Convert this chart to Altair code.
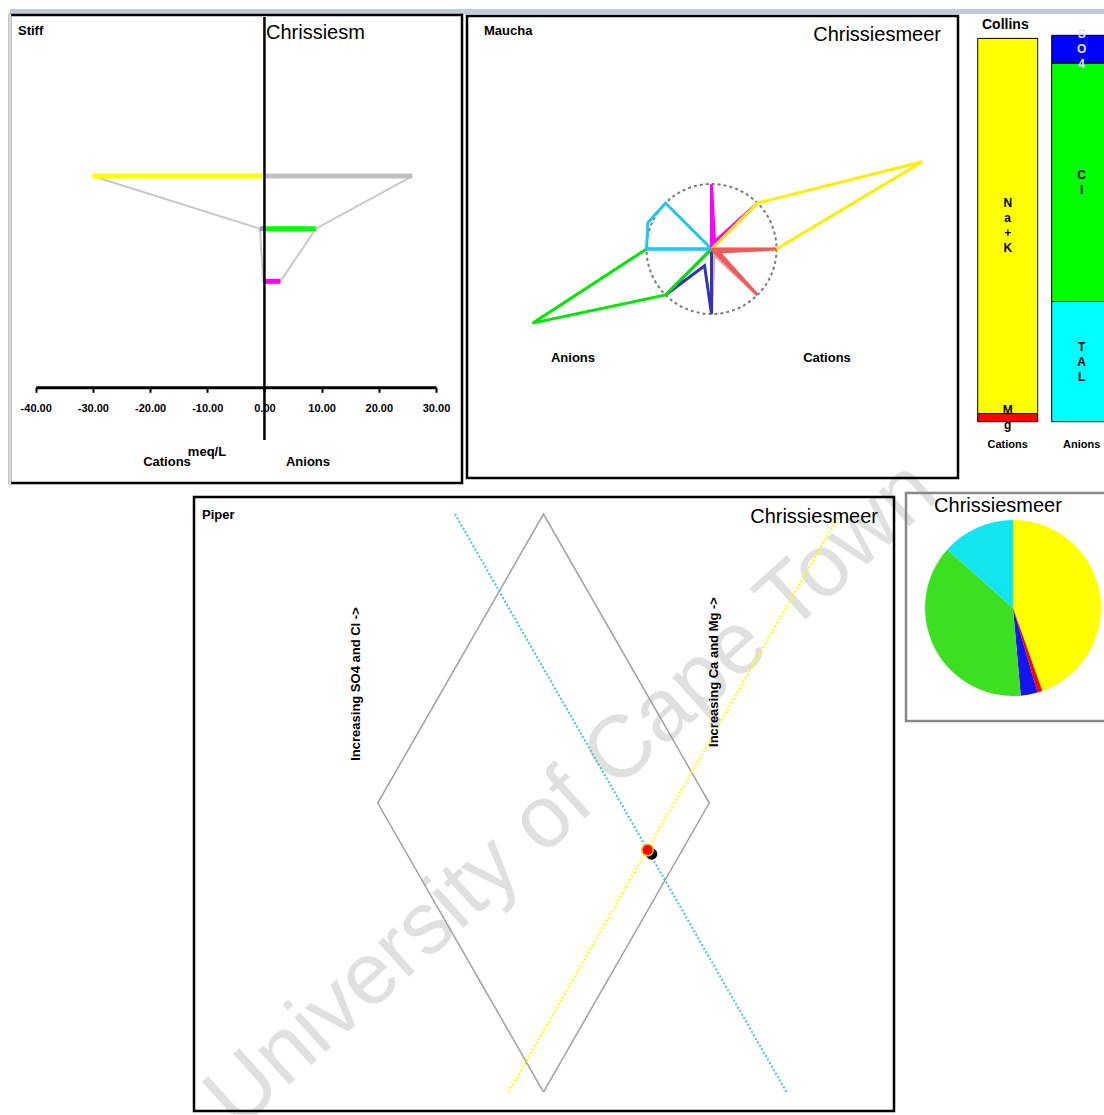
import altair as alt
import numpy as np
import pandas as pd

FONT = "Liberation Sans"

# ---------------- Stiff diagram (meq/L) ----------------
stiff_rows = [1, 2, 3]
stiff_cations = ["Na+K", "Ca", "Mg"]
stiff_cation_meq = [30.1, 0.8, 0.2]
stiff_anions = ["Cl", "HCO3", "SO4"]
stiff_anion_meq = [25.85, 9.0, 2.8]
stiff_ticks = [-40, -30, -20, -10, 0, 10, 20, 30]

# ---------------- Maucha diagram (sector, outer radius in circle radii) ----------------
maucha_ions = ["Ca", "SO4", "Cl", "HCO3", "K", "Na", "Mg"]
maucha_sector = [6, 5, 4, 3, 1, 0, 7]
maucha_size = [0.10, 0.28, 2.98, 1.06, 0.12, 3.51, 0.12]

# ---------------- Collins (% of meq/L) ----------------
collins_group = ["Cations", "Cations", "Anions", "Anions", "Anions"]
collins_ions = ["Mg", "Na+K", "TAL", "Cl", "SO4"]
collins_text = ["M\ng", "N\na\n+\nK", "T\nA\nL", "C\nl", "S\nO\n4"]
collins_pct = [2.1, 97.1, 31.1, 61.7, 7.2]

# ---------------- Piper ----------------
piper_sample_x = [31.4]
piper_sample_y = [72.5]
piper_cation_line_x = [-10.6, 89.4]
piper_cation_line_y = [0.0, 173.2]
piper_anion_line_x = [-26.7, 73.3]
piper_anion_line_y = [173.2, 0.0]
diamond_x = [0, 50, 0, -50, 0]
diamond_y = [0, 86.6, 173.2, 86.6, 0]

# ---------------- Pie ----------------
pie_ions = ["Na+K", "Mg", "SO4", "Cl", "TAL"]
pie_share = [44.6, 0.9, 3.1, 38.0, 13.4]

# ---------------- styles ----------------
stiff_palette = ["#ffff00", "#9999cc", "#aaaaaa", "#c0c0c0", "#00ff00", "#ff00ff"]
maucha_palette = ["#e0a8a8", "#3333bb", "#00e600", "#1ec8f0", "#ff00ff", "#ffee00", "#f05a5a"]
collins_palette = ["#ff0000", "#ffff00", "#00ffff", "#00ff00", "#0000ff"]
pie_palette = ["#ffff00", "#ff0000", "#1414f0", "#3ce020", "#12e4f0"]

W, H = 1104, 1115
ONE = alt.Data(values=[{"k": 0}])


def label(text, x, y, size=13, weight="bold", align="left", angle=0, color="black"):
    kw = dict(text=text, fontSize=size, fontWeight=weight, align=align,
              baseline="middle", font=FONT, color=color)
    if angle:
        kw["angle"] = angle
    return alt.Chart(ONE).mark_text(**kw).encode(x=alt.value(x), y=alt.value(y))


def box(x0, x1, y0, y1, color="black", width=2.5):
    return alt.Chart(ONE).mark_rect(fill="transparent", stroke=color, strokeWidth=width).encode(
        x=alt.value(x0), x2=alt.value(x1), y=alt.value(y0), y2=alt.value(y1))


# ======================= watermark & header strip =======================
watermark = alt.Chart(ONE).mark_text(
    text="University of Cape Town", font=FONT, fontSize=88, angle=318,
    color="#e0e0e0", align="center", baseline="middle",
).encode(x=alt.value(572), y=alt.value(795))
header = alt.Chart(ONE).mark_rect(fill="#bfcbdc").encode(
    x=alt.value(10), x2=alt.value(1104), y=alt.value(9), y2=alt.value(14))

# ======================= Stiff =======================
sx = alt.Scale(domain=[-40, 30], range=[35.7, 436], nice=False, zero=False)
sy = alt.Scale(domain=[-2.057, 6.829], range=[15, 483], nice=False, zero=False)
stiff_axis = alt.Axis(
    values=stiff_ticks, orient="bottom", offset=387.3 - H, grid=False,
    labelExpr="replace(format(datum.value, '.2f'), '\u2212', '-')",
    domainColor="black", domainWidth=3, tickColor="black", tickWidth=2, tickSize=5,
    labelFont=FONT, labelFontSize=11, labelFontWeight="bold", labelColor="black",
    labelPadding=16, labelBaseline="middle", labelFlush=False, labelOverlap=False,
    title=None,
)
stiff_bar_df = pd.DataFrame({
    "stiff_ion": stiff_cations + stiff_anions,
    "x0": [0.0] * 6,
    "x": [-v for v in stiff_cation_meq] + stiff_anion_meq,
    "row": stiff_rows + stiff_rows,
})
poly_x = [-v for v in stiff_cation_meq] + stiff_anion_meq[::-1]
poly_y = stiff_rows + stiff_rows[::-1]
stiff_poly_df = pd.DataFrame({
    "x": poly_x + [poly_x[0]],
    "row": poly_y + [poly_y[0]],
    "k": list(range(len(poly_x) + 1)),
})
stiff_poly = alt.Chart(stiff_poly_df).mark_line(color="#c8c8c8", strokeWidth=2).encode(
    x=alt.X("x:Q", scale=sx, axis=stiff_axis),
    y=alt.Y("row:Q", scale=sy, axis=None),
    order="k:Q",
)
stiff_bars = alt.Chart(stiff_bar_df).mark_rule(strokeWidth=5, strokeCap="butt").encode(
    x=alt.X("x0:Q", scale=sx, axis=stiff_axis),
    x2="x:Q",
    y=alt.Y("row:Q", scale=sy, axis=None),
    color=alt.Color("stiff_ion:N", scale=alt.Scale(domain=stiff_cations + stiff_anions,
                                                   range=stiff_palette), legend=None),
)
stiff_zero = alt.Chart(pd.DataFrame({"x": [0.0]})).mark_rule(color="black", strokeWidth=2.5).encode(
    x=alt.X("x:Q", scale=sx, axis=stiff_axis),
    y=alt.value(17), y2=alt.value(440),
)
stiff = alt.layer(stiff_poly, stiff_bars, stiff_zero)

# ======================= Maucha =======================
mx = alt.Scale(domain=[-3.762, 3.792], range=[467, 958], nice=False, zero=False)
my = alt.Scale(domain=[-3.523, 3.585], range=[478, 16], nice=False, zero=False)
rows = []
for ion, sec, r in zip(maucha_ions, maucha_sector, maucha_size):
    a0 = np.deg2rad(45 * sec)
    a1 = np.deg2rad(45 * (sec + 1))
    am = (a0 + a1) / 2
    pts = [(0.0, 0.0), (np.cos(a0), np.sin(a0)), (r * np.cos(am), r * np.sin(am)),
           (np.cos(a1), np.sin(a1)), (0.0, 0.0)]
    for k, (x_, y_) in enumerate(pts):
        rows.append({"maucha_ion": ion, "mx": x_, "my": y_, "k": k})
maucha_df = pd.DataFrame(rows)

maucha_circle = alt.Chart(pd.DataFrame({"mx": [0.0], "my": [0.0]})).mark_point(
    shape="circle", size=16900, filled=False, color="#7a7a7a", strokeDash=[3, 3],
    strokeWidth=2, opacity=1,
).encode(
    x=alt.X("mx:Q", scale=mx, axis=None),
    y=alt.Y("my:Q", scale=my, axis=None),
)
maucha_color = alt.Color("maucha_ion:N", scale=alt.Scale(domain=maucha_ions, range=maucha_palette),
                         legend=None)
kite_layers = [
    alt.Chart(maucha_df).transform_filter(alt.datum.maucha_ion == ion).mark_line(
        strokeWidth=3).encode(
        x=alt.X("mx:Q", scale=mx, axis=None),
        y=alt.Y("my:Q", scale=my, axis=None),
        color=maucha_color,
        order="k:Q",
    )
    for ion in maucha_ions
]
maucha = alt.layer(maucha_circle, *kite_layers)

# ======================= Collins =======================
LINE_H = 15
cdf = pd.DataFrame({"grp": collins_group, "collins_ion": collins_ions,
                    "txt": collins_text, "v": collins_pct})
cdf["y1"] = cdf.groupby("grp")["v"].cumsum()
cdf["y0"] = cdf["y1"] - cdf["v"]
cy_lo, cy_hi = 421.7, 35.3
px_per_pct = (cy_lo - cy_hi) / 100
cdf["nlines"] = cdf["txt"].str.count("\n") + 1
cdf["mid"] = (cdf["y0"] + cdf["y1"]) / 2 + (cdf["nlines"] - 1) * LINE_H / 2 / px_per_pct

cx = alt.Scale(domain=["Cations", "Anions"], range=[970.7, 1118.7], paddingInner=0.189,
               paddingOuter=0.0946)
cy = alt.Scale(domain=[0, 100], range=[cy_lo, cy_hi], nice=False, zero=False)
collins_axis = alt.Axis(orient="bottom", offset=421.7 - H, domain=False, ticks=False, tickSize=0,
                        grid=False, labelFont=FONT, labelFontSize=11, labelFontWeight="bold",
                        labelColor="black", labelPadding=23, labelBaseline="middle",
                        labelAngle=0, title=None)
collins_bars = alt.Chart(cdf).mark_bar(stroke="black", strokeWidth=1).encode(
    x=alt.X("grp:N", scale=cx, axis=collins_axis),
    y=alt.Y("y0:Q", scale=cy, axis=None),
    y2="y1:Q",
    color=alt.Color("collins_ion:N", scale=alt.Scale(domain=collins_ions, range=collins_palette),
                    legend=None),
)
collins_txt_dark = alt.Chart(cdf).transform_filter("datum.collins_ion != 'SO4'").mark_text(
    font=FONT, fontSize=12, fontWeight="bold", lineBreak="\n", lineHeight=LINE_H,
    baseline="middle", color="black",
).encode(x=alt.X("grp:N", scale=cx, axis=collins_axis), y=alt.Y("mid:Q", scale=cy, axis=None),
         text="txt:N")
collins_txt_light = alt.Chart(cdf).transform_filter("datum.collins_ion == 'SO4'").mark_text(
    font=FONT, fontSize=12, fontWeight="bold", lineBreak="\n", lineHeight=LINE_H,
    baseline="middle", color="#e0e0ff",
).encode(x=alt.X("grp:N", scale=cx, axis=collins_axis), y=alt.Y("mid:Q", scale=cy, axis=None),
         text="txt:N")
collins = alt.layer(collins_bars, collins_txt_dark, collins_txt_light)

# ======================= Piper =======================
px = alt.Scale(domain=[-105.43, 105.73], range=[194, 894], nice=False, zero=False)
py = alt.Scale(domain=[-5.69, 178.3], range=[1111, 497], nice=False, zero=False)
PXY = dict(x=alt.X("px:Q", scale=px, axis=None), y=alt.Y("py:Q", scale=py, axis=None))

diamond = alt.Chart(pd.DataFrame({"px": diamond_x, "py": diamond_y,
                                  "k": list(range(len(diamond_x)))})).mark_line(
    color="#a0a0a0", strokeWidth=1.5).encode(order="k:Q", **PXY)
anion_line = alt.Chart(pd.DataFrame({"px": piper_anion_line_x, "py": piper_anion_line_y})).mark_line(
    color="#40c8d0", strokeWidth=2, strokeDash=[2, 2]).encode(**PXY)
cation_line = alt.Chart(pd.DataFrame({"px": piper_cation_line_x, "py": piper_cation_line_y})).mark_line(
    color="#ffff00", strokeWidth=2, strokeDash=[2, 2]).encode(**PXY)
sample_df = pd.DataFrame({"px": piper_sample_x, "py": piper_sample_y})
shadow = alt.Chart(sample_df).mark_point(filled=True, color="black", size=130, opacity=1,
                                         xOffset=4, yOffset=4).encode(**PXY)
sample = alt.Chart(sample_df).mark_point(filled=True, fill="#ff0000", stroke="#f0c000",
                                         strokeWidth=1.5, size=130, opacity=1).encode(**PXY)
piper = alt.layer(diamond, anion_line, cation_line, shadow, sample)

# ======================= Pie =======================
pie_df = pd.DataFrame({"pie_ion": pie_ions, "v": pie_share, "i": list(range(len(pie_ions)))})
pie = alt.Chart(pie_df).mark_arc(radius=88).encode(
    theta=alt.Theta("v:Q", stack=True),
    color=alt.Color("pie_ion:N", scale=alt.Scale(domain=pie_ions, range=pie_palette), legend=None),
    order=alt.Order("i:Q"),
    x=alt.value(1013), y=alt.value(608),
)

# ======================= texts & frames =======================
texts = alt.layer(
    label("Stiff", 18, 31),
    label("Chrissiesm", 266, 33, size=20, weight="normal"),
    label("meq/L", 207, 452, align="center"),
    label("Cations", 167, 462, align="center"),
    label("Anions", 308, 462, align="center"),
    label("Maucha", 484, 31),
    label("Chrissiesmeer", 941, 35, size=20, weight="normal", align="right"),
    label("Anions", 573, 358, align="center"),
    label("Cations", 827, 358, align="center"),
    label("Collins", 982, 25, size=14),
    label("Piper", 202, 515),
    label("Chrissiesmeer", 878, 517, size=20, weight="normal", align="right"),
    label("Increasing SO4 and Cl ->", 356, 684, align="center", angle=270),
    label("Increasing Ca and Mg ->", 714, 672, align="center", angle=270),
    label("Chrissiesmeer", 998, 506, size=20, weight="normal", align="center"),
)
stiff_left = alt.Chart(ONE).mark_rule(color="#d8d8d8", strokeWidth=2.5).encode(
    x=alt.value(10), y=alt.value(14), y2=alt.value(484))
frames = alt.layer(
    box(10, 462, 15, 483),
    stiff_left,
    box(467, 958, 16, 478),
    box(194, 894, 497, 1111),
    box(906, 1112, 493, 721, color="#888888"),
)

chart = alt.layer(
    watermark, header, stiff, maucha, collins, piper, pie, texts, frames,
).resolve_scale(
    x="independent", y="independent", color="independent"
).properties(
    width=W, height=H, padding=0, background="white",
    autosize=alt.AutoSizeParams(type="none"),
).configure_view(stroke="transparent")

chart.save("out.html", embed_options={"renderer": "svg", "actions": False})
